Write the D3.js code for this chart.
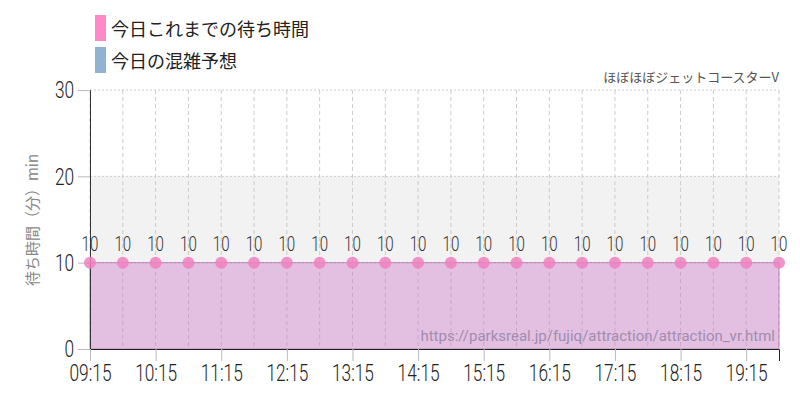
<!DOCTYPE html>
<html><head><meta charset="utf-8">
<script src="https://cdn.jsdelivr.net/npm/d3@7"></script>
<style>body{margin:0;background:#fff}</style>
</head><body>
<svg id="chart" width="800" height="400"></svg>
<script>
const times = ["09:15","09:45","10:15","10:45","11:15","11:45","12:15","12:45","13:15","13:45","14:15","14:45","15:15","15:45","16:15","16:45","17:15","17:45","18:15","18:45","19:15","19:45"];
const waits = [10,10,10,10,10,10,10,10,10,10,10,10,10,10,10,10,10,10,10,10,10,10];
const forecastBand = [10, 20];
const yTicks = [0, 10, 20, 30];
const tickTimes = times.filter((t, i) => i % 2 === 0);

const svg = d3.select("#chart"),
      margin = { top: 90, right: 21, bottom: 51, left: 90 },
      width = 800 - margin.left - margin.right,
      height = 400 - margin.top - margin.bottom;
const narrow = "'Roboto',sans-serif";
const jp = "'Noto Sans CJK JP',sans-serif";
const squeeze = "scale(0.72,1)";

const g = svg.append("g").attr("transform", `translate(${margin.left},${margin.top})`);
const x = d3.scalePoint().domain(times).range([0, width]);
const y = d3.scaleLinear().domain([0, 30]).range([height, 0]);

// forecast band
g.append("rect")
  .attr("x", 0).attr("width", width)
  .attr("y", y(forecastBand[1])).attr("height", y(forecastBand[0]) - y(forecastBand[1]))
  .attr("fill", "#f2f2f2");

// horizontal grid
g.selectAll(".hg").data(yTicks.slice(1)).enter().append("line")
  .attr("x1", 0).attr("x2", width)
  .attr("y1", d => y(d)).attr("y2", d => y(d))
  .attr("stroke", "#ccc").attr("stroke-dasharray", "2,2");

// vertical grid
g.selectAll(".vg").data(times).enter().append("line")
  .attr("x1", d => x(d)).attr("x2", d => x(d))
  .attr("y1", 0).attr("y2", height)
  .attr("stroke", "#ccc").attr("stroke-dasharray", "4,3");

// area
const area = d3.area().x((d, i) => x(times[i])).y0(height).y1(d => y(d));
g.append("path").datum(waits).attr("d", area)
  .attr("fill", "rgba(200,130,195,0.5)").attr("stroke", "#b070b0").attr("stroke-width", 0.8);

// axes
const ya = g.append("g").call(d3.axisLeft(y).tickValues(yTicks).tickSize(12).tickPadding(0));
ya.select(".domain").attr("stroke", "#333");
ya.selectAll(".tick line").attr("stroke", "#bbb");
ya.selectAll("text").attr("x", -22).attr("font-family", narrow).attr("font-size", 24).attr("font-weight", 300)
  .attr("fill", "#222").attr("transform", squeeze);

const xa = g.append("g").attr("transform", `translate(0,${height})`)
  .call(d3.axisBottom(x).tickValues(tickTimes).tickSize(12).tickPadding(3));
xa.select(".domain").attr("stroke", "#222");
xa.selectAll(".tick line").attr("stroke", "#bbb");
xa.selectAll("text").attr("font-family", narrow).attr("font-size", 24).attr("font-weight", 300)
  .attr("fill", "#222").attr("transform", squeeze);

// points
g.selectAll(".pt").data(waits).enter().append("circle")
  .attr("cx", (d, i) => x(times[i])).attr("cy", d => y(d)).attr("r", 6)
  .attr("fill", "#f080c0").attr("opacity", 0.85);

g.selectAll(".lbl").data(waits).enter().append("g")
  .attr("transform", (d, i) => `translate(${x(times[i])},${y(d) - 12})`)
  .append("text").attr("text-anchor", "middle").attr("font-family", narrow).attr("font-size", 21)
  .attr("font-weight", 300).attr("fill", "#333").attr("transform", squeeze)
  .text(d => d);

// y label
svg.append("text").attr("transform", "translate(38,220) rotate(-90)")
  .attr("text-anchor", "middle").attr("font-family", jp).attr("font-size", 15).attr("fill", "#888")
  .text("待ち時間（分）min");

// title right
svg.append("text").attr("x", 779).attr("y", 82).attr("text-anchor", "end")
  .attr("font-family", jp).attr("font-size", 13).attr("fill", "#555").text("ほぼほぼジェットコースターV");

// url
svg.append("text").attr("x", 775).attr("y", 341).attr("text-anchor", "end")
  .attr("font-family", "'Roboto',sans-serif").attr("font-size", 15).attr("fill", "#a08cb0")
  .text("https://parksreal.jp/fujiq/attraction/attraction_vr.html");

// legend
const legend = [["今日これまでの待ち時間", "#ff88c8"], ["今日の混雑予想", "#8fb3d1"]];
legend.forEach((l, i) => {
  svg.append("rect").attr("x", 95).attr("y", 15 + i * 32).attr("width", 11).attr("height", 26).attr("fill", l[1]);
  svg.append("text").attr("x", 111).attr("y", 36 + i * 32).attr("font-family", jp).attr("font-size", 18).attr("fill", "#222").text(l[0]);
});
</script>
</body></html>
